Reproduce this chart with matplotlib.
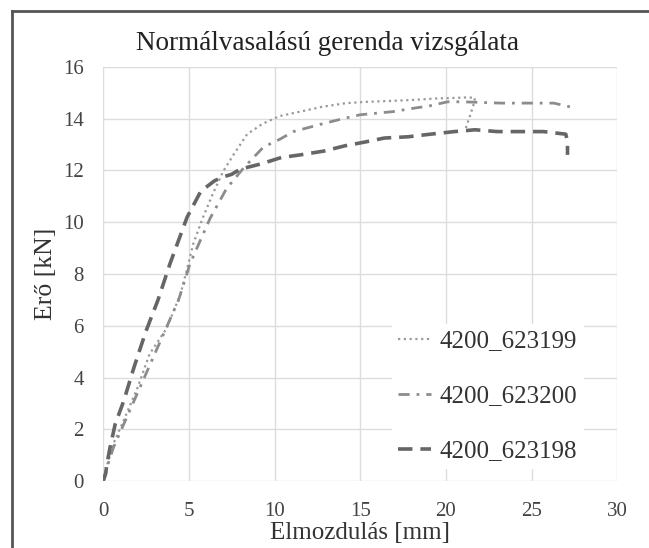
import matplotlib
matplotlib.use('Agg')
import matplotlib.pyplot as plt
from matplotlib.lines import Line2D

plt.rcParams['font.family'] = ['Liberation Serif', 'DejaVu Serif']

# 4200_623199 (pontozott)
x_199 = [0, 0.2, 0.6, 1.2, 2.0, 2.7, 3.7, 4.5, 4.9, 5.25, 5.8, 6.4, 7.0, 7.6, 8.4, 9.3,
         10.3, 11.7, 12.8, 14.2, 15.4, 16.6, 18.0, 19.5, 20.5, 21.3, 21.7, 21.6, 21.4, 21.2, 21.1]
y_199 = [0, 0.55, 1.45, 2.35, 3.6, 4.9, 5.9, 7.2, 8.2, 9.15, 10.15, 11.1, 11.96, 12.6, 13.4, 13.8,
         14.1, 14.3, 14.46, 14.6, 14.65, 14.68, 14.72, 14.78, 14.8, 14.82, 14.8, 14.5, 14.1, 13.7, 13.5]

# 4200_623200 (pont-vonal)
x_200 = [0, 0.2, 0.6, 1.2, 2.0, 2.8, 3.6, 4.4, 5.07, 5.65, 6.24, 7.2, 8.2, 9.35, 10.3, 11.1,
         12.8, 14.0, 15.0, 16.9, 18.1, 19.1, 20.1, 21.0, 23.2, 25.3, 26.3, 27.6]
y_200 = [0, 0.5, 1.3, 2.2, 3.4, 4.6, 5.8, 7.0, 8.4, 9.27, 10.15, 11.3, 12.1, 12.9, 13.2, 13.5,
         13.8, 14.0, 14.15, 14.27, 14.4, 14.5, 14.65, 14.65, 14.6, 14.6, 14.6, 14.4]

# 4200_623198 (szaggatott)
x_198 = [0, 0.15, 0.2, 0.4, 0.7, 1.2, 1.8, 2.5, 3.2, 3.9, 4.9, 5.7, 6.5, 7.0, 7.5, 8.0, 9.2,
         10.4, 11.5, 12.9, 14.1, 15.3, 16.4, 17.8, 19.1, 20.5, 21.7, 23.0, 24.3, 25.7, 27.0, 27.1, 27.1]
y_198 = [0, 0.3, 0.6, 1.3, 2.2, 3.1, 4.4, 5.8, 7.0, 8.4, 10.2, 11.2, 11.6, 11.75, 11.85, 12.05, 12.25,
         12.5, 12.6, 12.75, 12.95, 13.1, 13.25, 13.3, 13.4, 13.5, 13.57, 13.5, 13.5, 13.5, 13.4, 13.1, 12.6]

fig = plt.figure(figsize=(6.49, 5.48), dpi=100)
ax = fig.add_axes([0.159, 0.122, 0.792, 0.756])

ax.plot(x_199, y_199, color='#9a9a9a', lw=1.6, ls=(0, (1, 1.6)), label='4200_623199')
ax.plot(x_200, y_200, color='#8c8c8c', lw=2.0, ls=(0, (4, 2.5, 1, 2.5)), label='4200_623200')
ax.plot(x_198, y_198, color='#666666', lw=2.6, ls=(0, (4, 2.2)), label='4200_623198')

ax.set_xlim(0, 30)
ax.set_ylim(0, 16)
ax.set_xticks(range(0, 31, 5))
ax.set_yticks(range(0, 17, 2))
ax.grid(True, color='#dcdcdc', lw=1)
ax.set_axisbelow(True)
for s in ax.spines.values():
    s.set_visible(False)
ax.tick_params(length=0, labelsize=15, colors='#444444')
ax.tick_params(axis='x', pad=15)
ax.tick_params(axis='y', pad=14)

ax.set_title('Normálvasalású gerenda vizsgálata', fontsize=19.5, color='#222222', pad=12, x=0.436)
ax.set_xlabel('Elmozdulás [mm]', fontsize=18, color='#333333', labelpad=1)
ax.set_ylabel('Erő [kN]', fontsize=18.5, color='#333333', labelpad=4)

leg = ax.legend(loc='lower right', bbox_to_anchor=(0.959, 0.0), fontsize=18,
                handlelength=1.3, handletextpad=0.35, labelspacing=1.3,
                frameon=True, fancybox=False, framealpha=1, borderpad=0.25)
leg.get_frame().set_edgecolor('none')
for t in leg.get_texts():
    t.set_color('#333333')

# keret
fig.add_artist(Line2D([12 / 649, 12 / 649], [0, 1 - 11 / 548], color='#555555', lw=2))
fig.add_artist(Line2D([12 / 649, 1], [1 - 11 / 548, 1 - 11 / 548], color='#555555', lw=2))

fig.savefig('out.png', dpi=100)
